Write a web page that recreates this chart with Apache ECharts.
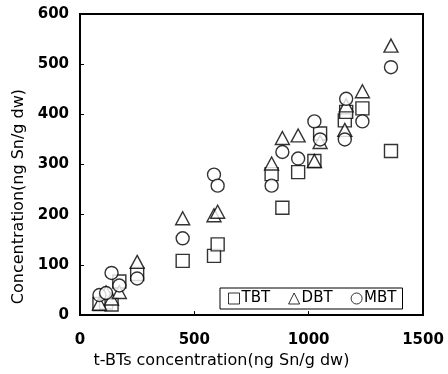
<!DOCTYPE html>
<html>
<head>
<meta charset="utf-8">
<script src="https://cdn.jsdelivr.net/npm/echarts@6/dist/echarts.min.js"></script>
<style>
  html, body { margin: 0; padding: 0; background: #fff; }
  #chart { width: 448px; height: 374px; }
</style>
</head>
<body>
<div id="chart"></div>
<script>
// t-BTs total concentration for each sample (x), ng Sn/g dw
const sampleX = [85, 114, 138, 172, 250, 449, 586, 602, 838, 885, 954, 1025, 1050, 1158, 1164, 1235, 1360];
// Butyltin species concentration per sample, ng Sn/g dw
const tbt = [22, 25, 21, 67, 82, 108, 118, 141, 281, 214, 285, 307, 362, 388, 405, 412, 327];
const dbt = [23, 45, 33, 46, 106, 193, 199, 206, 302, 353, 358, 307, 345, 369, 418, 446, 537];
const mbt = [40, 44, 84, 59, 73, 153, 280, 258, 258, 325, 312, 386, 350, 350, 431, 386, 494];

const xTicks = [0, 500, 1000, 1500];
const yTicks = [0, 100, 200, 300, 400, 500, 600];

const FONT = 'DejaVu Sans';
const pairs = ys => sampleX.map((x, i) => [x, ys[i]]);

const markerStyle = { color: '#fff', borderColor: '#000', borderWidth: 1.4 };

const chart = echarts.init(document.getElementById('chart'), null, { renderer: 'canvas' });
chart.setOption({
  animation: false,
  backgroundColor: '#fff',
  grid: {
    left: 80, top: 14, width: 343, height: 306,
    show: true, borderColor: '#000', borderWidth: 2, backgroundColor: 'transparent'
  },
  legend: {
    left: 220, top: 288,
    orient: 'horizontal',
    padding: [3, 6, 3, 8],
    itemGap: 18,
    itemWidth: 11, itemHeight: 11,
    borderColor: '#000', borderWidth: 1,
    backgroundColor: '#fff',
    itemStyle: { color: '#fff', borderColor: '#000', borderWidth: 1 },
    textStyle: { fontFamily: FONT, fontSize: 15, color: '#000', padding: [0, 0, 0, -3] },
    data: [
      { name: 'TBT', icon: 'rect' },
      { name: 'DBT', icon: 'triangle' },
      { name: 'MBT', icon: 'circle' }
    ]
  },
  xAxis: {
    type: 'value', min: xTicks[0], max: xTicks[xTicks.length - 1], interval: 500,
    name: 't-BTs concentration(ng Sn/g dw)',
    nameLocation: 'middle', nameGap: 34,
    nameTextStyle: { fontFamily: FONT, fontSize: 16, color: '#000', padding: [0, 60, 0, 0] },
    axisLine: { show: true, lineStyle: { color: '#000', width: 2 } },
    axisTick: { show: true, inside: true, length: 4, lineStyle: { color: '#000', width: 1 } },
    axisLabel: { fontFamily: FONT, fontSize: 15, fontWeight: 'bold', color: '#000', margin: 18,
                 formatter: v => String(v) },
    splitLine: { show: false }
  },
  yAxis: {
    type: 'value', min: yTicks[0], max: yTicks[yTicks.length - 1], interval: 100,
    name: 'Concentration(ng Sn/g dw)',
    nameLocation: 'middle', nameGap: 47,
    nameTextStyle: { fontFamily: FONT, fontSize: 16, color: '#000', padding: [0, 64, 0, 0] },
    axisLine: { show: true, lineStyle: { color: '#000', width: 2 } },
    axisTick: { show: true, inside: true, length: 4, lineStyle: { color: '#000', width: 1 } },
    axisLabel: { fontFamily: FONT, fontSize: 15, fontWeight: 'bold', color: '#000', margin: 11,
                 formatter: v => String(v) },
    splitLine: { show: false }
  },
  series: [
    { name: 'TBT', type: 'scatter', symbol: 'rect', symbolSize: 13, itemStyle: markerStyle, data: pairs(tbt) },
    { name: 'DBT', type: 'scatter', symbol: 'triangle', symbolSize: [14, 13], itemStyle: markerStyle, data: pairs(dbt) },
    { name: 'MBT', type: 'scatter', symbol: 'circle', symbolSize: 13, itemStyle: markerStyle, data: pairs(mbt) }
  ]
});
</script>
</body>
</html>
